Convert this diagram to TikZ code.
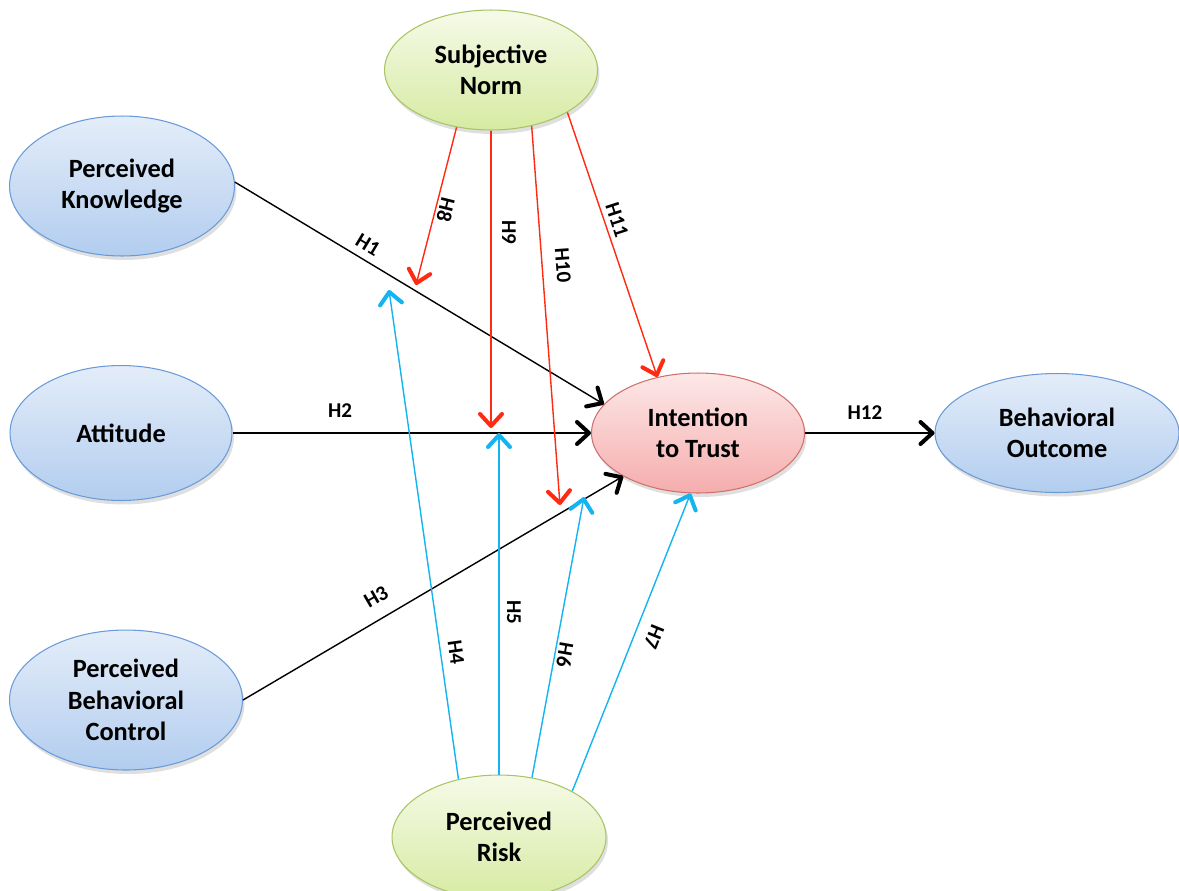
\documentclass[tikz,border=0pt]{standalone}
\usepackage{fontspec}
\setmainfont{Carlito}
\usetikzlibrary{shapes.geometric, arrows.meta, shadows}

\definecolor{blueedge}{HTML}{6A9BD8}
\definecolor{bluetop}{HTML}{E4EDF9}
\definecolor{bluebottom}{HTML}{B2CDEF}
\definecolor{greenedge}{HTML}{A9C463}
\definecolor{greentop}{HTML}{F6FAE8}
\definecolor{greenbottom}{HTML}{D6EBA2}
\definecolor{pinkedge}{HTML}{CF706C}
\definecolor{pinktop}{HTML}{FDE8E8}
\definecolor{pinkbottom}{HTML}{F5ADAD}
\definecolor{normred}{HTML}{FF2A12}
\definecolor{riskcyan}{HTML}{14B4F0}

\tikzset{
    construct/.style={ellipse, draw=blueedge, line width=0.6pt, top color=bluetop, bottom color=bluebottom, align=center, inner sep=0pt,
        drop shadow={opacity=0.25, shadow xshift=0.4mm, shadow yshift=-0.8mm}},
    moderator/.style={construct, draw=greenedge, top color=greentop, bottom color=greenbottom},
    trust/.style={construct, draw=pinkedge, top color=pinktop, bottom color=pinkbottom},
    barb/.tip={Straight Barb[length=2.4mm, width=4.4mm, line width=2.3pt, round]},
    hyp/.style={draw=black, line width=0.8pt, -barb},
    normarrow/.style={hyp, draw=normred},
    riskarrow/.style={hyp, draw=riskcyan},
    hlabel/.style={font=\fontsize{12}{14}\selectfont\bfseries, inner sep=0pt}
}

\begin{document}
\begin{tikzpicture}[x=0.02cm, y=-0.02cm, font=\fontsize{15}{18}\selectfont\bfseries]
    \useasboundingbox (0,0) rectangle (1179,890);

    % Constructs
    \node[construct, minimum width=4.5cm, minimum height=2.8cm] (knowledge) at (122,186) {Perceived\\Knowledge};
    \node[construct, minimum width=4.44cm, minimum height=2.7cm] (attitude) at (121,433) {Attitude};
    \node[construct, minimum width=4.66cm, minimum height=2.8cm] (control) at (126,700) {Perceived\\Behavioral\\Control};
    \node[trust, minimum width=4.26cm, minimum height=2.4cm] (intention) at (698,433) {Intention\\to Trust};
    \node[construct, minimum width=4.88cm, minimum height=2.38cm] (outcome) at (1057,433) {Behavioral\\Outcome};
    \node[moderator, minimum width=4.26cm, minimum height=2.4cm] (norm) at (491,70) {Subjective\\Norm};
    \node[moderator, minimum width=4.28cm, minimum height=2.48cm] (risk) at (499,837) {Perceived\\Risk};

    % Tips on other paths
    \coordinate (h8tip) at (416,285);
    \coordinate (h9tip) at (491,428);
    \coordinate (h10tip) at (560,505);
    \coordinate (h4tip) at (389,290);
    \coordinate (h5tip) at (499,433);
    \coordinate (h6tip) at (584,497);

    % Direct paths
    \draw[hyp] (knowledge.2) -- (intention.163);
    \draw[hyp] (attitude) -- (intention);
    \draw[hyp] (control.east) -- (intention.210);
    \draw[hyp] (intention) -- (outcome);

    % Subjective norm paths
    \draw[normarrow] (norm.-121) -- (h8tip);
    \draw[normarrow] (norm.-90) -- (h9tip);
    \draw[normarrow] (norm.-54) -- (h10tip);
    \draw[normarrow] (norm.-29) -- (intention.126);

    % Perceived risk paths
    \draw[riskarrow] (risk.125) -- (h4tip);
    \draw[riskarrow] (risk.90) -- (h5tip);
    \draw[riskarrow] (risk.61) -- (h6tip);
    \draw[riskarrow] (risk.32) -- (intention.-97);

    % Labels
    \node[hlabel, rotate=-31] (lh1) at (368,245) {H1};
    \node[hlabel] (lh2) at (340,411) {H2};
    \node[hlabel, rotate=30] (lh3) at (376,597) {H3};
    \node[hlabel, rotate=-82] (lh4) at (456,652) {H4};
    \node[hlabel, rotate=-90] (lh5) at (514,612) {H5};
    \node[hlabel, rotate=-100] (lh6) at (565,655) {H6};
    \node[hlabel, rotate=-112] (lh7) at (654,637) {H7};
    \node[hlabel, rotate=-104] (lh8) at (446,210) {H8};
    \node[hlabel, rotate=-90] (lh9) at (509,232) {H9};
    \node[hlabel, rotate=-86] (lh10) at (563,265) {H10};
    \node[hlabel, rotate=-72] (lh11) at (617,220) {H11};
    \node[hlabel] (lh12) at (865,413) {H12};
\end{tikzpicture}
\end{document}
